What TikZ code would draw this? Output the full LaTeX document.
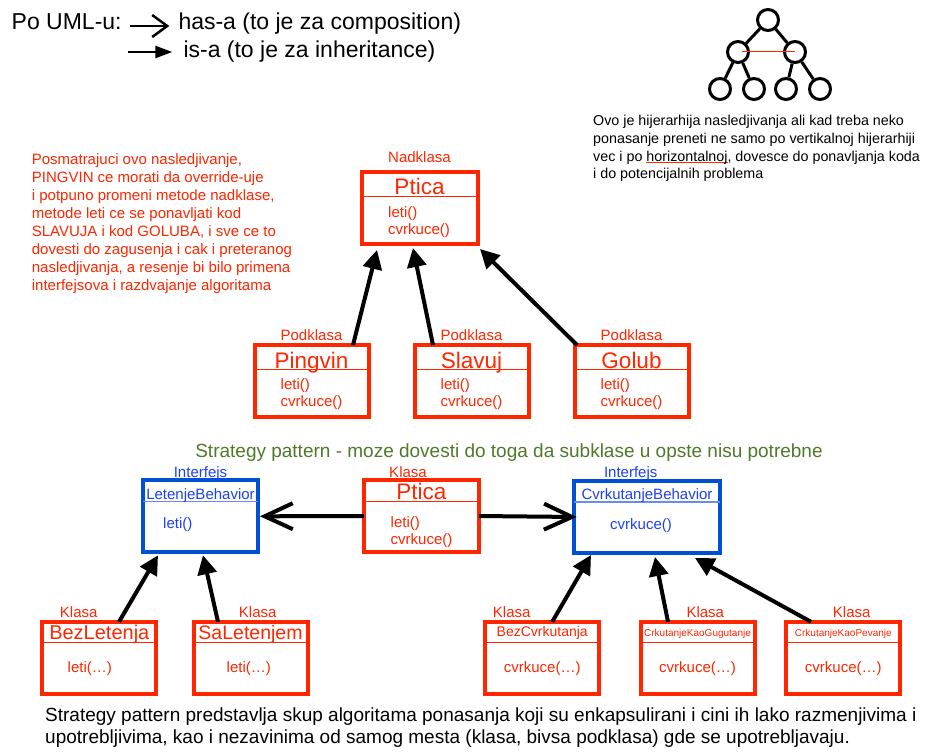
\documentclass[tikz,border=0pt]{standalone}
\usepackage{fontspec}
\setmainfont{Liberation Sans}
\usetikzlibrary{arrows.meta}
\definecolor{umlred}{HTML}{FF2600}
\definecolor{umlblue}{HTML}{0050D5}
\definecolor{ifblue}{HTML}{1E40F5}
\definecolor{divblue}{HTML}{6A8CF0}
\definecolor{titlegreen}{HTML}{4E7A2A}
\newcommand{\fsz}[2]{\fontsize{#1}{#2}\selectfont}
\newsavebox{\ulbox}
\newcommand{\redul}[1]{\sbox{\ulbox}{#1}\rlap{\color{umlred}\rule[-2.2pt]{\wd\ulbox}{1pt}}\usebox{\ulbox}}
\tikzset{
  txt/.style={inner sep=0pt, align=left},
  klasa/.style={draw=umlred, line width=4pt, outer sep=0pt, inner sep=0pt, minimum width=114pt, minimum height=72pt},
  iface/.style={klasa, draw=umlblue},
  reddiv/.style={draw=umlred, line width=1pt},
  bluediv/.style={draw=divblue, line width=1.2pt},
  ktitle/.style={txt, anchor=base, text=umlred},
  kmeth/.style={txt, text=umlred, font=\fsz{15}{17}},
  tag/.style={txt, anchor=base, text=umlred, font=\fsz{15}{18}},
  isa/.style={-{Triangle[length=19pt,width=19pt]}, line width=4pt},
  hasa/.style={-{Straight Barb[length=28pt,width=26pt]}, line width=4pt},
  treenode/.style={draw, circle, line width=3pt, minimum size=21pt, inner sep=0pt, fill=white}
}

\begin{document}
\begin{tikzpicture}[x=1pt, y=-1pt, font=\fsz{15}{18}]
  \useasboundingbox[fill=white] (0,0) rectangle (947,752);

  % legenda
  \node[txt, anchor=base west, font=\fsz{23}{27}] (po) at (11.5,30) {Po UML-u:};
  \node[txt, anchor=base west, font=\fsz{23}{27}] (hasa) at (178.3,30) {has-a (to je za composition)};
  \node[txt, anchor=base west, font=\fsz{23}{27}] (isa) at (183.3,57) {is-a (to je za inheritance)};
  \draw[-{Straight Barb[length=15pt,width=22pt]}, line width=2.5pt] ([shift={(8pt,4pt)}]po.base east) -- ([shift={(-9pt,4pt)}]hasa.base west);
  \draw[-{Triangle[length=17pt,width=12pt]}, line width=2.5pt] ([shift={(-55pt,5pt)}]isa.base west) -- ([shift={(-11pt,5pt)}]isa.base west);

  % hijerarhija gore desno
  \node[treenode] (root) at (768,20) {};
  \node[treenode] (midl) at (738,52) {};
  \node[treenode] (midr) at (795,52) {};
  \node[treenode] (leaf1) at (720,89) {};
  \node[treenode] (leaf2) at (754,89) {};
  \node[treenode] (leaf3) at (786,89) {};
  \node[treenode] (leaf4) at (820,89) {};
  \draw[line width=3pt] (root) -- (midl) (root) -- (midr) (midl) -- (leaf1) (midl) -- (leaf2) (midr) -- (leaf3) (midr) -- (leaf4);
  \draw[umlred, line width=1pt] ([xshift=4pt]midl.center) -- (midr.center);
  % base = zadnji red
  \node[txt, anchor=base west, font=\fsz{14.3}{17.7}] (hijtekst) at (593,178.7) {Ovo je hijerarhija nasledjivanja ali kad treba neko\\ponasanje preneti ne samo po vertikalnoj hijerarhiji\\vec i po \redul{horizontalnoj}, dovesce do ponavljanja koda\\i do potencijalnih problema};

  % napomena
  \node[txt, anchor=base west, text=umlred, font=\fsz{15}{18}] (napomena) at (31.7,290) {Posmatrajuci ovo nasledjivanje,\\PINGVIN ce morati da override-uje\\i potpuno promeni metode nadklase,\\metode leti ce se ponavljati kod\\SLAVUJA i kod GOLUBA, i sve ce to\\dovesti do zagusenja i cak i preteranog\\nasledjivanja, a resenje bi bilo primena\\interfejsova i razdvajanje algoritama};

  % nasledjivanje
  \node[klasa, minimum width=116pt] (ptica) at (419.5,208) {};
  \draw[reddiv] ([yshift=-24pt]ptica.north west) -- ([yshift=-24pt]ptica.north east);
  \node[ktitle, font=\fsz{22.5}{27}] (pticaime) at ([yshift=-22.3pt]ptica.north) {Ptica};
  \node[kmeth, anchor=base west] (pticamet) at ([shift={(26.5pt,-62.3pt)}]ptica.north west) {leti()\\cvrkuce()};
  \node[tag] (nadklasa) at ([yshift=9.5pt]ptica.north) {Nadklasa};

  \node[klasa] (pingvin) at (311.5,381) {};
  \draw[reddiv] ([yshift=-24pt]pingvin.north west) -- ([yshift=-24pt]pingvin.north east);
  \node[ktitle, font=\fsz{22.5}{27}] (pingvinime) at ([yshift=-23pt]pingvin.north) {Pingvin};
  \node[kmeth, anchor=base west] (pingvinmet) at ([shift={(26pt,-61pt)}]pingvin.north west) {leti()\\cvrkuce()};
  \node[tag] (podklasa1) at ([yshift=4.2pt]pingvin.north) {Podklasa};

  \node[klasa] (slavuj) at (471.5,381) {};
  \draw[reddiv] ([yshift=-24pt]slavuj.north west) -- ([yshift=-24pt]slavuj.north east);
  \node[ktitle, font=\fsz{22.5}{27}] (slavujime) at ([yshift=-23pt]slavuj.north) {Slavuj};
  \node[kmeth, anchor=base west] (slavujmet) at ([shift={(26pt,-61pt)}]slavuj.north west) {leti()\\cvrkuce()};
  \node[tag] (podklasa2) at ([yshift=4.2pt]slavuj.north) {Podklasa};

  \node[klasa] (golub) at (631.5,381) {};
  \draw[reddiv] ([yshift=-24pt]golub.north west) -- ([yshift=-24pt]golub.north east);
  \node[ktitle, font=\fsz{22.5}{27}] (golubime) at ([yshift=-23pt]golub.north) {Golub};
  \node[kmeth, anchor=base west] (golubmet) at ([shift={(26pt,-61pt)}]golub.north west) {leti()\\cvrkuce()};
  \node[tag] (podklasa3) at ([yshift=4.2pt]golub.north) {Podklasa};

  \draw[isa] ([xshift=41.5pt]pingvin.north) -- ([shift={(-42.5pt,-6pt)}]ptica.south);
  \draw[isa] ([xshift=-38.5pt]slavuj.north) -- ([shift={(-6.5pt,-4pt)}]ptica.south);
  \draw[isa] ([xshift=-54.5pt]golub.north) -- ([shift={(2.5pt,-5pt)}]ptica.south east);

  % strategy pattern
  \node[txt, anchor=base, text=titlegreen, font=\fsz{19}{23}] (strategija) at (509,457) {Strategy pattern - moze dovesti do toga da subklase u opste nisu potrebne};

  \node[klasa, minimum width=115pt] (pticab) at (421.3,516) {};
  \draw[reddiv] ([yshift=-21pt]pticab.north west) -- ([yshift=-21pt]pticab.north east);
  \node[ktitle, font=\fsz{22.5}{27}] (pticabime) at ([yshift=-19.3pt]pticab.north) {Ptica};
  \node[kmeth, anchor=base west] (pticabmet) at ([shift={(26.7pt,-64.5pt)}]pticab.north west) {leti()\\cvrkuce()};
  \node[tag] (klasa0) at ([shift={(-13.3pt,2.5pt)}]pticab.north) {Klasa};

  \node[iface, minimum width=115pt] (letenje) at (200.5,516.3) {};
  \draw[bluediv] ([yshift=-21.4pt]letenje.north west) -- ([yshift=-21.4pt]letenje.north east);
  \node[ktitle, text=ifblue, font=\fsz{15}{18}] (letenjeime) at ([yshift=-18.7pt]letenje.north) {LetenjeBehavior};
  \node[kmeth, text=ifblue, anchor=base west] (letenjemet) at ([shift={(20pt,-48.2pt)}]letenje.north west) {leti()};
  \node[tag, text=ifblue] (interfejs1) at ([yshift=3.3pt]letenje.north) {Interfejs};

  \node[iface, minimum width=146.6pt] (cvrk) at (647,517) {};
  \draw[bluediv] ([yshift=-21pt]cvrk.north west) -- ([yshift=-21pt]cvrk.north east);
  \node[ktitle, text=ifblue, font=\fsz{15}{18}] (cvrkime) at ([yshift=-18pt]cvrk.north) {CvrkutanjeBehavior};
  \node[kmeth, text=ifblue, anchor=base west] (cvrkmet) at ([shift={(36.3pt,-48pt)}]cvrk.north west) {cvrkuce()};
  \node[tag, text=ifblue] (interfejs2) at ([shift={(-16.3pt,3.5pt)}]cvrk.north) {Interfejs};

  \draw[hasa] (pticab.west) -- ([xshift=2pt]letenje.east);
  \draw[hasa] (pticab.east) -- ([xshift=3pt]cvrk.west);

  % algoritmi
  \node[klasa] (bezletenja) at (99.3,657.8) {};
  \draw[reddiv] ([yshift=-20.3pt]bezletenja.north west) -- ([yshift=-20.3pt]bezletenja.north east);
  \node[ktitle, font=\fsz{20}{24}] (bezletenjaime) at ([yshift=-17.3pt]bezletenja.north) {BezLetenja};
  \node[kmeth, anchor=base] (bezletenjamet) at ([shift={(-9.5pt,-51pt)}]bezletenja.north) {leti(…)};
  \node[tag] (klasa1) at ([shift={(-20.6pt,4.3pt)}]bezletenja.north) {Klasa};

  \node[klasa] (saletenjem) at (250.5,657.8) {};
  \draw[reddiv] ([yshift=-20.3pt]saletenjem.north west) -- ([yshift=-20.3pt]saletenjem.north east);
  \node[ktitle, font=\fsz{19.5}{24}] (saletenjemime) at ([yshift=-17.3pt]saletenjem.north) {SaLetenjem};
  \node[kmeth, anchor=base] (saletenjemmet) at ([shift={(-1.7pt,-51pt)}]saletenjem.north) {leti(…)};
  \node[tag] (klasa2) at ([shift={(7.2pt,4.3pt)}]saletenjem.north) {Klasa};

  \node[klasa] (bezcvrk) at (542.2,657.8) {};
  \draw[reddiv] ([yshift=-20.3pt]bezcvrk.north west) -- ([yshift=-20.3pt]bezcvrk.north east);
  \node[ktitle, font=\fsz{14}{17}] (bezcvrkime) at ([yshift=-14.7pt]bezcvrk.north) {BezCvrkutanja};
  \node[kmeth, anchor=base] (bezcvrkmet) at ([yshift=-51pt]bezcvrk.north) {cvrkuce(…)};
  \node[tag] (klasa3) at ([shift={(-30.5pt,4.3pt)}]bezcvrk.north) {Klasa};

  \node[klasa] (gugutanje) at (697.5,657.8) {};
  \draw[reddiv] ([yshift=-20.3pt]gugutanje.north west) -- ([yshift=-20.3pt]gugutanje.north east);
  \node[ktitle, font=\fsz{10}{12}] (gugutanjeime) at ([yshift=-14.5pt]gugutanje.north) {CrkutanjeKaoGugutanje};
  \node[kmeth, anchor=base] (gugutanjemet) at ([yshift=-51pt]gugutanje.north) {cvrkuce(…)};
  \node[tag] (klasa4) at ([shift={(7.8pt,4.3pt)}]gugutanje.north) {Klasa};

  \node[klasa] (pevanje) at (843.3,657.8) {};
  \draw[reddiv] ([yshift=-20.3pt]pevanje.north west) -- ([yshift=-20.3pt]pevanje.north east);
  \node[ktitle, font=\fsz{10}{12}] (pevanjeime) at ([yshift=-14.5pt]pevanje.north) {CrkutanjeKaoPevanje};
  \node[kmeth, anchor=base] (pevanjemet) at ([yshift=-51pt]pevanje.north) {cvrkuce(…)};
  \node[tag] (klasa5) at ([shift={(8.4pt,4.3pt)}]pevanje.north) {Klasa};

  \draw[isa] ([xshift=19.7pt]bezletenja.north) -- ([shift={(-42.5pt,-3pt)}]letenje.south);
  \draw[isa] ([xshift=-32.5pt]saletenjem.north) -- ([shift={(2.5pt,-3pt)}]letenje.south);
  \draw[isa] ([xshift=10pt]bezcvrk.north) -- ([shift={(-56pt,-2pt)}]cvrk.south);
  \draw[isa] ([xshift=-29.5pt]gugutanje.north) -- ([shift={(8pt,-4pt)}]cvrk.south);
  \draw[isa] ([xshift=-32.3pt]pevanje.north) -- ([shift={(48pt,-5pt)}]cvrk.south);

  % zakljucak
  \node[txt, anchor=base west, font=\fsz{19}{21.7}] (zakljucak) at (45,743.4) {Strategy pattern predstavlja skup algoritama ponasanja koji su enkapsulirani i cini ih lako razmenjivima i\\upotrebljivima, kao i nezavinima od samog mesta (klasa, bivsa podklasa) gde se upotrebljavaju.};
\end{tikzpicture}
\end{document}
